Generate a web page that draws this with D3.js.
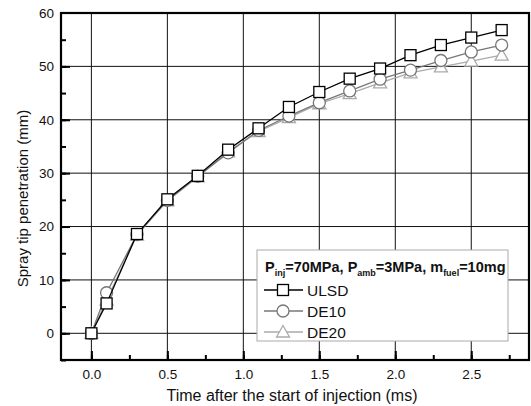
<!DOCTYPE html>
<html>
<head>
<meta charset="utf-8">
<script src="https://cdnjs.cloudflare.com/ajax/libs/d3/7.8.5/d3.min.js"></script>
<style>
  body { margin: 0; background: #fff; }
  svg { font-family: "Liberation Sans", Arial, sans-serif; }
</style>
</head>
<body>
<div id="chart"></div>
<script>
const times = [0, 0.1, 0.3, 0.5, 0.7, 0.9, 1.1, 1.3, 1.5, 1.7, 1.9, 2.1, 2.3, 2.5, 2.7];
const ulsd = [0, 5.6, 18.6, 25.1, 29.5, 34.4, 38.4, 42.4, 45.2, 47.7, 49.6, 52.1, 54.0, 55.4, 56.8];
const de10 = [0, 7.6, 18.5, 24.9, 29.4, 33.8, 38.0, 40.7, 43.2, 45.4, 47.6, 49.3, 51.1, 52.7, 54.0];
const de20 = [0, 6.2, 18.4, 24.8, 29.3, 34.0, 37.8, 40.4, 43.0, 44.9, 46.9, 48.8, 49.9, 51.0, 52.1];
const xTicks = [0, 0.5, 1.0, 1.5, 2.0, 2.5];
const yTicks = [0, 10, 20, 30, 40, 50, 60];

const series = [
  { name: "ULSD", values: ulsd, color: "#000", shape: "square" },
  { name: "DE10", values: de10, color: "#777", shape: "circle" },
  { name: "DE20", values: de20, color: "#aaa", shape: "triangle" }
];

const width = 531, height = 406;
const x = d3.scaleLinear().domain([-0.2, 2.88]).range([61, 529]);
const y = d3.scaleLinear().domain([-5, 60]).range([360, 13]);

const svg = d3.select("#chart").append("svg")
  .attr("width", width)
  .attr("height", height);

// grid
svg.append("g").selectAll("line")
  .data(xTicks)
  .join("line")
  .attr("x1", d => x(d)).attr("x2", d => x(d))
  .attr("y1", y(60)).attr("y2", y(-5))
  .attr("stroke", "#111").attr("stroke-width", 1);
svg.append("g").selectAll("line")
  .data(yTicks.slice(0, -1))
  .join("line")
  .attr("x1", x(-0.2)).attr("x2", x(2.88))
  .attr("y1", d => y(d)).attr("y2", d => y(d))
  .attr("stroke", "#111").attr("stroke-width", 1);

// axes with inward ticks
const xAxis = svg.append("g")
  .attr("transform", `translate(0,${y(-5)})`)
  .call(d3.axisBottom(x).tickValues(d3.range(0, 2.8, 0.25)).tickSize(-5).tickFormat(""));
const xMajor = svg.append("g")
  .attr("transform", `translate(0,${y(-5)})`)
  .call(d3.axisBottom(x).tickValues(xTicks).tickSize(-9).tickPadding(9).tickFormat(d3.format(".1f")));
const yAxis = svg.append("g")
  .attr("transform", `translate(${x(-0.2)},0)`)
  .call(d3.axisLeft(y).tickValues(d3.range(-5, 60, 5)).tickSize(-5).tickFormat(""));
const yMajor = svg.append("g")
  .attr("transform", `translate(${x(-0.2)},0)`)
  .call(d3.axisLeft(y).tickValues(yTicks).tickSize(-9).tickPadding(7));

[xAxis, xMajor, yAxis, yMajor].forEach(g => {
  g.select(".domain").remove();
  g.selectAll(".tick line").attr("stroke", "#000").attr("stroke-width", 2);
  g.selectAll(".tick text").attr("font-size", 13.5).attr("fill", "#111")
    .style("font-family", "'Liberation Sans', Arial, sans-serif");
});
yMajor.selectAll(".tick").filter(d => d === 60).select("line").remove();

// frame
svg.append("rect")
  .attr("x", x(-0.2)).attr("y", y(60))
  .attr("width", x(2.88) - x(-0.2)).attr("height", y(-5) - y(60))
  .attr("fill", "none").attr("stroke", "#000").attr("stroke-width", 2.2);

function drawMarker(g, shape, color) {
  if (shape === "square") {
    g.append("rect").attr("x", -5.5).attr("y", -5.5).attr("width", 11).attr("height", 11)
      .attr("fill", "#fff").attr("stroke", color).attr("stroke-width", 1.3);
  } else if (shape === "circle") {
    g.append("circle").attr("r", 6)
      .attr("fill", "#fff").attr("stroke", color).attr("stroke-width", 1.3);
  } else {
    g.append("path").attr("d", "M0,-6.5L6.5,5L-6.5,5Z")
      .attr("fill", "#fff").attr("stroke", color).attr("stroke-width", 1.3);
  }
}

const line = d3.line().x(d => x(d[0])).y(d => y(d[1]));

series.slice().reverse().forEach(s => {
  const pts = times.map((t, i) => [t, s.values[i]]);
  svg.append("path")
    .datum(pts)
    .attr("d", line)
    .attr("fill", "none")
    .attr("stroke", s.color)
    .attr("stroke-width", 1.3);
  svg.append("g").selectAll("g")
    .data(pts)
    .join("g")
    .attr("transform", d => `translate(${x(d[0])},${y(d[1])})`)
    .each(function () { drawMarker(d3.select(this), s.shape, s.color); });
});

// legend
const lg = svg.append("g");
lg.append("rect")
  .attr("x", 257).attr("y", 250).attr("width", 251).attr("height", 91)
  .attr("fill", "#fff").attr("stroke", "#aaa").attr("stroke-width", 1);

const title = lg.append("text")
  .attr("x", 265).attr("y", 272)
  .attr("font-size", 14.5).attr("font-weight", "bold").attr("fill", "#111");
title.append("tspan").text("P");
title.append("tspan").attr("font-size", 9).attr("dy", 4).text("inj");
title.append("tspan").attr("dy", -4).text("=70MPa, P");
title.append("tspan").attr("font-size", 9).attr("dy", 4).text("amb");
title.append("tspan").attr("dy", -4).text("=3MPa, m");
title.append("tspan").attr("font-size", 9).attr("dy", 4).text("fuel");
title.append("tspan").attr("dy", -4).text("=10mg");

series.forEach((s, i) => {
  const yy = 290 + i * 21;
  lg.append("line")
    .attr("x1", 264).attr("x2", 303).attr("y1", yy).attr("y2", yy)
    .attr("stroke", s.color).attr("stroke-width", 1.3);
  const m = lg.append("g").attr("transform", `translate(283,${yy})`);
  drawMarker(m, s.shape, s.color);
  lg.append("text")
    .attr("x", 307).attr("y", yy + 5.5)
    .attr("font-size", 15.5).attr("fill", "#111")
    .text(s.name);
});

// axis titles
svg.append("text")
  .attr("x", (x(-0.2) + x(2.88)) / 2 - 3).attr("y", 401)
  .attr("text-anchor", "middle")
  .attr("font-size", 16).attr("fill", "#111")
  .text("Time after the start of injection (ms)");
svg.append("text")
  .attr("transform", `translate(28,${(y(60) + y(-5)) / 2 + 12}) rotate(-90)`)
  .attr("text-anchor", "middle")
  .attr("font-size", 15).attr("fill", "#111")
  .text("Spray tip penetration (mm)");
</script>
</body>
</html>
